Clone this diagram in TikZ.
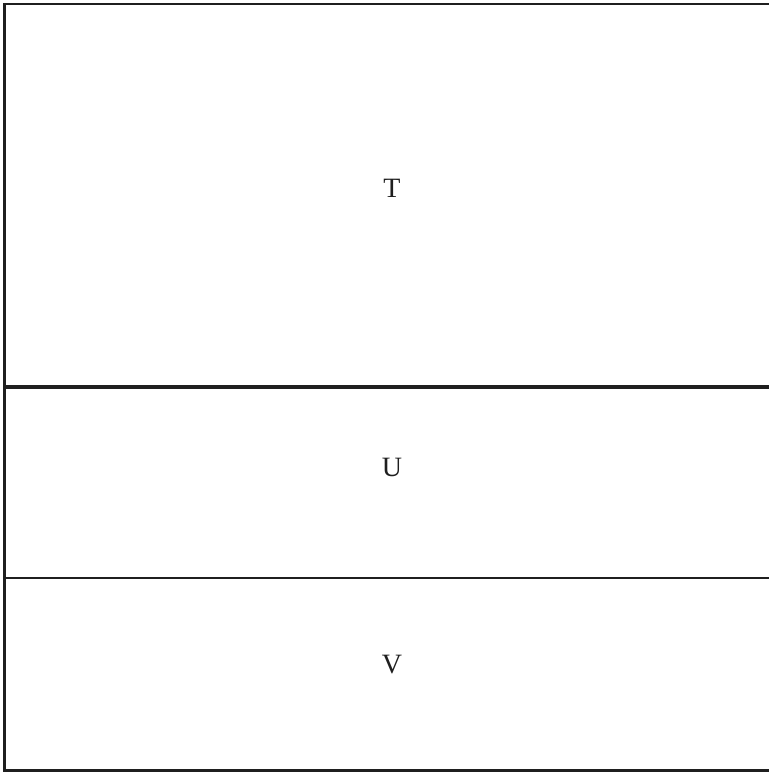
\documentclass[tikz,border=0pt]{standalone}
\usepackage{fontspec}
\setmainfont{Liberation Serif}
\begin{document}
\begin{tikzpicture}[x=1pt,y=1pt,
  frame/.style={draw=black!88,line width=2.2pt},
  lbl/.style={font=\fontsize{28}{31}\selectfont,inner sep=0pt,text=black!88}]
\useasboundingbox (0,0) rectangle (769,772);
\coordinate (tl) at (4.5,768);
\coordinate (tr) at (772,768);
\coordinate (bl) at (4.5,1.5);
\coordinate (br) at (772,1.5);
\coordinate (m1l) at (4.5,385);
\coordinate (m1r) at (772,385);
\coordinate (m2l) at (4.5,194);
\coordinate (m2r) at (772,194);
\draw[frame] (tr) -- (tl) -- (bl) -- (br);
\draw[draw=black!88,line width=3.6pt] (m1l) -- (m1r);
\draw[frame] (m2l) -- (m2r);
\node[lbl] (T) at (392,584) {T};
\node[lbl] (U) at (392,305) {U};
\node[lbl] (V) at (392,107) {V};
\end{tikzpicture}
\end{document}
